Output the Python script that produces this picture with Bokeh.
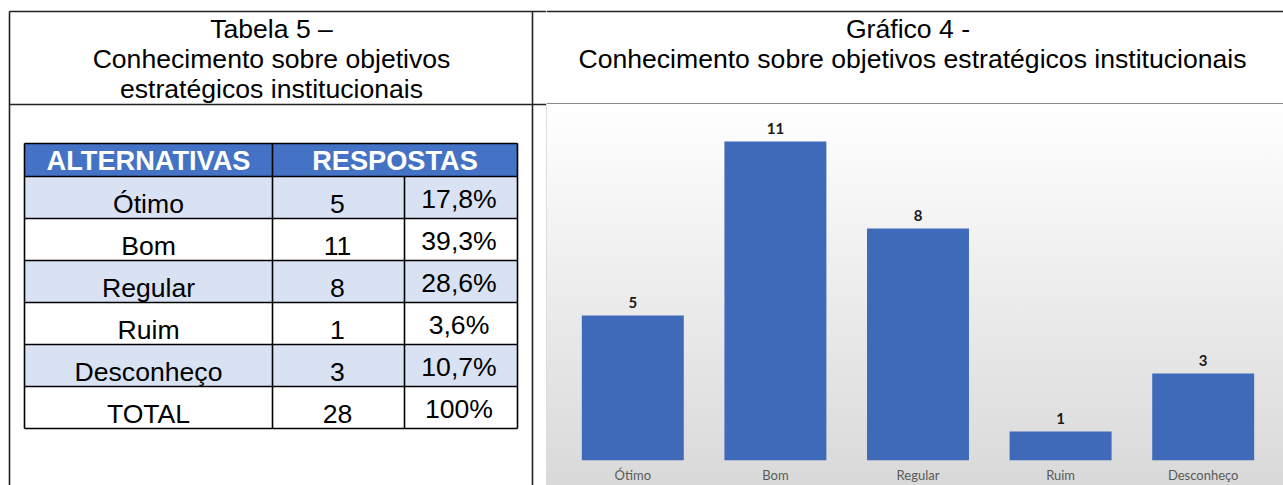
from bokeh.plotting import figure
from bokeh.layouts import row, column
from bokeh.models import Range1d, FactorRange
from bokeh.core.properties import value
from bokeh.embed import file_html
from bokeh.resources import INLINE

# ---- data ----
categories = ["Ótimo", "Bom", "Regular", "Ruim", "Desconheço"]
respostas = [5, 11, 8, 1, 3]
percentuais = ["17,8%", "39,3%", "28,6%", "3,6%", "10,7%"]
total_label = "TOTAL"
total_value = 28
total_pct = "100%"
table_title = ["Tabela 5 –", "Conhecimento sobre objetivos", "estratégicos institucionais"]
chart_title = ["Gráfico 4 -", "Conhecimento sobre objetivos estratégicos institucionais"]
header_cols = ["ALTERNATIVAS", "RESPOSTAS"]

SANS = value("Liberation Sans")
LINE = "#222222"
BLUE = "#4472C4"
LIGHT = "#D9E2F3"
FS = 26.6
FIX = 8.2  # baseline compensation for FS text


def no_align(p):
    if "frame_align" in p.properties():
        p.frame_align = False


def blank(w, h, xr, yr):
    p = figure(width=w, height=h, x_range=Range1d(*xr), y_range=Range1d(*yr),
               output_backend="svg", toolbar_location=None,
               x_axis_type=None, y_axis_type=None, min_border=0,
               outline_line_color=None)
    p.grid.visible = False
    p.background_fill_color = "white"
    p.border_fill_color = "white"
    no_align(p)
    return p


def txt(p, xs, ys, labels, size=FS, bold=False, color="black", fix=FIX):
    p.text(x=xs, y=[y - fix for y in ys], text=labels, text_font=SANS,
           text_font_style="bold" if bold else "normal",
           text_font_size=f"{size}px", text_align="center",
           text_baseline="alphabetic", text_color=color)


# ---- left panel: title + table ----
left = blank(546, 485, (0, 546), (485, 0))
left.segment(x0=[9, 9, 9, 532], y0=[11, 11, 104, 11],
             x1=[546, 9, 546, 532], y1=[11, 485, 104, 485],
             line_color=LINE, line_width=1.6)

txt(left, [271] * 3, [37, 67, 97], table_title)

rows_lab = categories + [total_label]
rows_val = [str(v) for v in respostas] + [str(total_value)]
rows_pct = percentuais + [total_pct]
n = len(rows_lab)
T_LEFT, C1, C2, T_RIGHT = 24, 272, 404, 517
H_TOP, H_BOT, RH = 143, 176, 42
tops = [H_BOT + RH * i for i in range(n)]
fills = [LIGHT if i % 2 == 0 else "white" for i in range(n)]

left.quad(left=[T_LEFT], right=[T_RIGHT], top=[H_TOP], bottom=[H_BOT],
          fill_color=BLUE, line_color=None)
left.quad(left=[T_LEFT] * n, right=[T_RIGHT] * n, top=tops,
          bottom=[t + RH for t in tops], fill_color=fills, line_color=None)

bottom = H_BOT + RH * n
hy = [H_TOP] + [H_BOT + RH * i for i in range(n)] + [bottom]
left.segment(x0=[T_LEFT] * len(hy), y0=hy, x1=[T_RIGHT] * len(hy), y1=hy,
             line_color="black", line_width=1.6)
left.segment(x0=[T_LEFT, C1, C2, T_RIGHT], y0=[H_TOP, H_TOP, H_BOT, H_TOP],
             x1=[T_LEFT, C1, C2, T_RIGHT], y1=[bottom] * 4,
             line_color="black", line_width=1.6)

txt(left, [(T_LEFT + C1) / 2, (C1 + T_RIGHT) / 2], [168, 168], header_cols,
    size=27.2, bold=True, color="white", fix=8.4)
txt(left, [(T_LEFT + C1) / 2] * n, [t + 36 for t in tops], rows_lab)
txt(left, [(C1 + C2) / 2 - 1] * n, [t + 36 for t in tops], rows_val)
txt(left, [(C2 + T_RIGHT) / 2 - 2] * n, [t + 31 for t in tops], rows_pct)

# ---- right header ----
hdr = blank(737, 104, (546, 1283), (104, 0))
hdr.segment(x0=[546, 546], y0=[11, 103.5], x1=[1283, 1283], y1=[11, 103.5],
            line_color=[LINE, "#666666"], line_width=1.6)
txt(hdr, [907.5, 912], [37, 67], chart_title)

# ---- bar chart ----
chart = figure(width=737, height=381, x_range=FactorRange(factors=categories),
               y_range=Range1d(0, 12), output_backend="svg", toolbar_location=None,
               min_border_left=15, min_border_right=9, min_border_top=8,
               min_border_bottom=25, outline_line_color=None)
no_align(chart)
chart.background_fill_alpha = 0
chart.border_fill_alpha = 0
chart.styles = {"background": "linear-gradient(to bottom, #ffffff, #d9d9d9)",
                "box-shadow": "inset 1px 0 0 #dddddd"}
chart.grid.visible = False
chart.yaxis.visible = False
chart.xaxis.axis_line_color = None
chart.xaxis.major_tick_line_color = None
chart.xaxis.minor_tick_line_color = None
chart.xaxis.major_tick_out = 0
chart.xaxis.major_tick_in = 0
chart.xaxis.minor_tick_out = 0
chart.xaxis.major_label_standoff = 6
chart.xaxis.major_label_text_font = "Lato"
chart.xaxis.major_label_text_font_size = "13px"
chart.xaxis.major_label_text_color = "#595959"

chart.vbar(x=categories, top=respostas, width=0.715, fill_color="#3E6AB9",
           line_color=None)
chart.text(x=categories, y=respostas, text=[str(v) for v in respostas],
           text_font=value("Lato"), text_font_style="bold", text_font_size="15px",
           text_align="center", text_baseline="alphabetic", y_offset=-13,
           text_color="#1a1a1a")

layout = row(left, column(hdr, chart))
open("out.html", "w").write(file_html(layout, INLINE))
